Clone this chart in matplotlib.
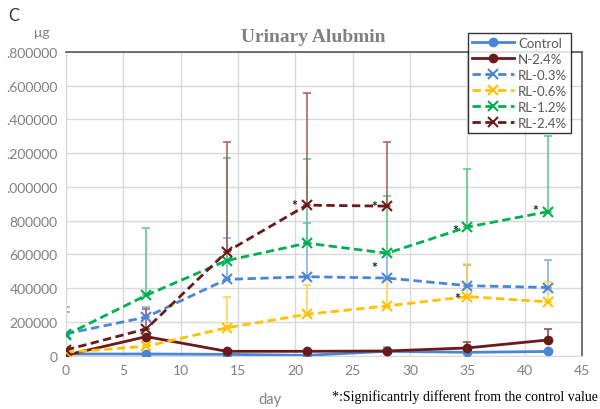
import numpy as np
import matplotlib.pyplot as plt

plt.rcParams['font.family'] = ['Lato', 'DejaVu Sans']

# Data (urinary albumin, ug)
days = [0, 7, 14, 21, 28, 35, 42]
days_rl24 = [0, 7, 14, 21, 28]

control = [10000, 10000, 8000, 2000, 26000, 20000, 25000]
n24 = [3000, 113000, 26000, 26000, 28000, 46000, 93000]
rl03 = [130000, 229000, 452000, 468000, 460000, 415000, 404000]
rl06 = [20000, 56000, 165000, 245000, 295000, 350000, 319000]
rl12 = [123000, 358000, 563000, 667000, 607000, 762000, 853000]
rl24 = [34000, 159000, 615000, 892000, 886000]

# upper error bars (SD)
control_sd = [5000, 5000, 5000, 5000, 28000, 10000, 10000]
n24_sd = [5000, 10000, 5000, 5000, 10000, 33000, 65000]
rl03_sd = [129000, 60000, 245000, 318000, 140000, 122000, 163000]
rl06_sd = [20000, 34000, 183000, 173000, 155000, 192000, 118000]
rl12_sd = [166000, 396000, 611000, 501000, 342000, 347000, 447000]
rl24_sd = [20000, 120000, 653000, 664000, 382000]

# significance marks: (series, day index)
sig_marks = [('rl24', 3), ('rl24', 4), ('rl12', 4), ('rl12', 5), ('rl03', 5), ('rl12', 6)]

yticks = [0, 200000, 400000, 600000, 800000, 1000000, 1200000, 1400000, 1600000, 1800000]
ytick_labels = ['0', '200000', '400000', '600000', '800000',
                '.000000', '.200000', '.400000', '.600000', '.800000']

GRAY = '#808080'

fig = plt.figure(figsize=(6, 4.1), dpi=100)
ax = fig.add_axes([0.11, 0.13, 0.86, 0.741])

series = [
    ('Control', days, control, control_sd, '#4a86d8', '-', 'o'),
    ('N-2.4%', days, n24, n24_sd, '#6b1a1a', '-', 'o'),
    ('RL-0.3%', days, rl03, rl03_sd, '#4a86d8', '--', 'x'),
    ('RL-0.6%', days, rl06, rl06_sd, '#ffc000', '--', 'x'),
    ('RL-1.2%', days, rl12, rl12_sd, '#00b050', '--', 'x'),
    ('RL-2.4%', days_rl24, rl24, rl24_sd, '#6b1a1a', '--', 'x'),
]

err_colors = {'Control': '#7fa9e6', 'N-2.4%': '#8c4040', 'RL-0.3%': '#7fa9e6',
              'RL-0.6%': '#ffcf4d', 'RL-1.2%': '#55c77f', 'RL-2.4%': '#a05a5a'}

# error bars first so lines sit on top
for name, x, y, sd, color, ls, mk in series:
    ax.errorbar(x, y, yerr=[np.zeros(len(sd)), sd], fmt='none',
                ecolor=err_colors[name], elinewidth=1.1, capsize=3, capthick=1.1, zorder=2)

handles = []
for name, x, y, sd, color, ls, mk in series:
    if mk == 'o':
        h, = ax.plot(x, y, ls, color=color, lw=2, marker='o', ms=6, label=name, zorder=3)
    else:
        h, = ax.plot(x, y, ls, color=color, lw=2, marker='x', ms=6.5, mew=1.5,
                     dashes=(3, 1.6), label=name, zorder=3)
    handles.append(h)

lookup = {'rl03': (days, rl03), 'rl12': (days, rl12), 'rl24': (days_rl24, rl24)}
offsets = {('rl24', 3): (-9, 0), ('rl24', 4): (-9, 0), ('rl12', 4): (-9, -10),
           ('rl12', 5): (-9, -2), ('rl03', 5): (-7, -9), ('rl12', 6): (-9, 1)}
for key, idx in sig_marks:
    xs, ys = lookup[key]
    ax.annotate('*', xy=(xs[idx], ys[idx]), xytext=offsets[(key, idx)],
                textcoords='offset points', ha='center', va='center',
                fontsize=10, fontweight='bold', color='#222222', zorder=4)

ax.set_xlim(0, 45)
ax.set_ylim(0, 1800000)
ax.set_xticks(range(0, 50, 5))
ax.set_yticks(yticks)
ax.set_yticklabels(ytick_labels)
ax.tick_params(length=0, labelsize=10, labelcolor=GRAY, pad=6)
ax.grid(True, color='#d9d9d9', lw=1)
ax.set_axisbelow(True)
for side in ['left', 'bottom']:
    ax.spines[side].set_color('#d9d9d9')
for side in ['top', 'right']:
    ax.spines[side].set_color('#595959')
    ax.spines[side].set_linewidth(1.2)

leg = fig.legend(handles=handles, loc='upper left', bbox_to_anchor=(468 / 600, 1 - 34 / 410),
                 fontsize=9.5, frameon=True, fancybox=False, edgecolor='black',
                 handlelength=3.2, handletextpad=0.3, labelspacing=0.3,
                 borderpad=0.3, borderaxespad=0)
leg.get_frame().set_linewidth(1)
for t in leg.get_texts():
    t.set_color('#595959')

fig.text(313 / 600, 1 - 37 / 410, 'Urinary Alubmin', ha='center', va='center',
         fontsize=14, fontweight='bold', family='Liberation Serif', color=GRAY)
fig.text(8 / 600, 1 - 16 / 410, 'C', ha='left', va='center', fontsize=12, color='#333333')
fig.text(42 / 600, 1 - 33 / 410, 'μg', ha='center', va='center', fontsize=10, color=GRAY)
fig.text(270 / 600, 1 - 400 / 410, 'day', ha='center', va='center', fontsize=10.5, color=GRAY)
fig.text(598 / 600, 1 - 397 / 410, '*:Significantrly different from the control value',
         ha='right', va='center', fontsize=10, family='Liberation Serif', color='black')

fig.savefig('out.png', dpi=100)
